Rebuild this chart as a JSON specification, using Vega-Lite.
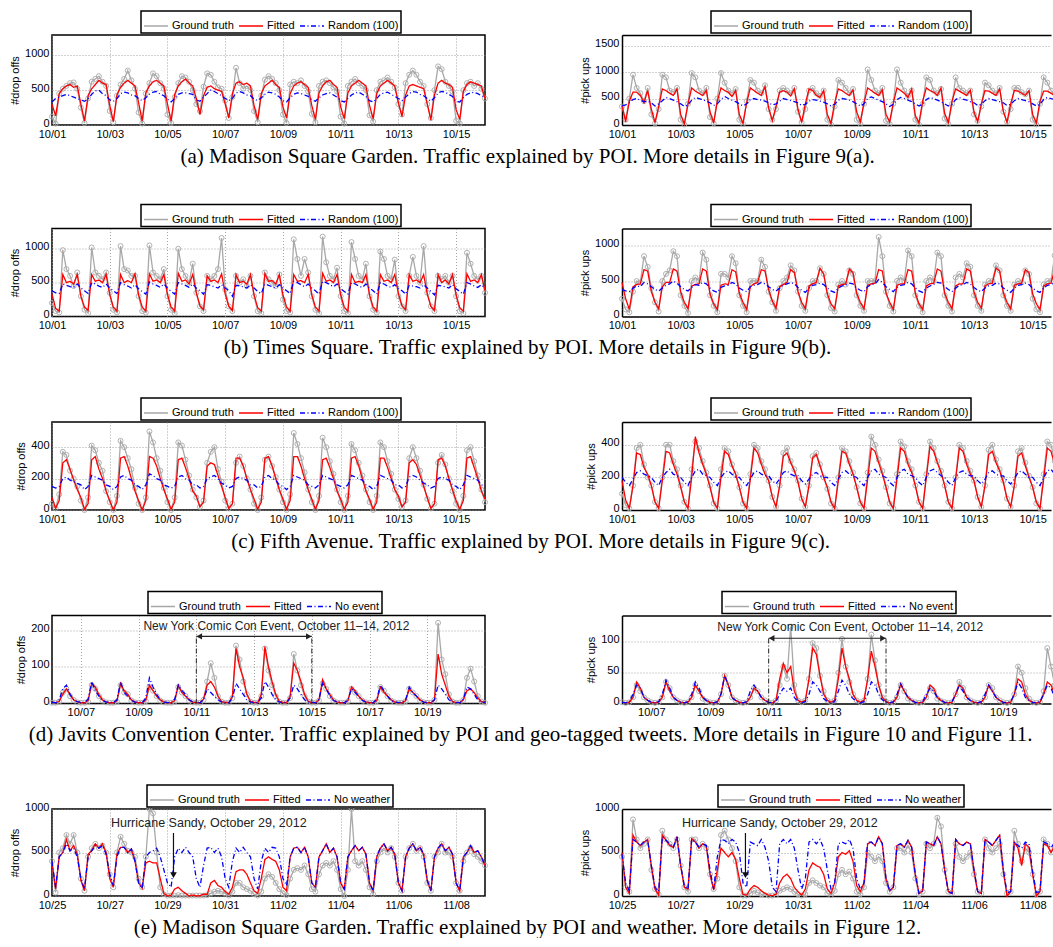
{"$schema":"https://vega.github.io/schema/vega-lite/v6.json","background":"white","padding":{"left":8,"top":9,"right":0,"bottom":0},
"config":{"font":"Liberation Sans","view":{"stroke":"black","strokeWidth":1.5},
"axis":{"labelFont":"Liberation Sans","labelFontSize":11,"labelColor":"black","titleFont":"Liberation Sans","titleFontSize":11,"titleFontWeight":"normal","titleColor":"black","grid":true,"gridColor":"#8c8c8c","gridDash":[1,2],"gridWidth":0.8,"ticks":false,"domain":false,"domainColor":"black","domainWidth":1.5,"labelPadding":3,"titlePadding":4,"labelFlush":false,"labelOverlap":false,"labelBound":false},
"axisX":{"labelPadding":3},
"axisY":{"format":"d","labelOffset":-2},
"legend":{"orient":"none","direction":"horizontal","strokeColor":"black","strokeWidth":1.5,"fillColor":"white","padding":2,"labelFont":"Liberation Sans","labelFontSize":11,"labelColor":"black","labelOffset":3,"columnPadding":2,"symbolSize":576,"symbolStrokeWidth":1.3,"symbolType":"stroke","labelLimit":200},
"line":{"strokeWidth":1.3,"clip":true},
"point":{"shape":"circle","filled":false,"size":25,"strokeWidth":0.9,"clip":true,"opacity":1},
"text":{"font":"Liberation Sans"},
"title":{"font":"Liberation Serif","fontSize":21,"fontWeight":"normal","color":"black","orient":"bottom","anchor":"middle","offset":6,"dx":-10}},
"datasets":{
"a1":[{"h":0,"g":120,"f":300,"r":330},{"h":3,"g":20,"f":130,"r":380},{"h":6,"g":450,"f":450,"r":400},{"h":9,"g":520,"f":520,"r":420},{"h":12,"g":560,"f":560,"r":440},{"h":15,"g":600,"f":580,"r":420},{"h":18,"g":610,"f":540,"r":400},{"h":21,"g":520,"f":560,"r":380},{"h":24,"g":250,"f":300,"r":360},{"h":27,"g":30,"f":60,"r":340},{"h":30,"g":380,"f":420,"r":370},{"h":33,"g":620,"f":520,"r":440},{"h":36,"g":660,"f":580,"r":490},{"h":39,"g":700,"f":640,"r":500},{"h":42,"g":620,"f":600,"r":450},{"h":45,"g":560,"f":580,"r":420},{"h":48,"g":200,"f":280,"r":360},{"h":51,"g":40,"f":50,"r":340},{"h":54,"g":420,"f":430,"r":380},{"h":57,"g":580,"f":540,"r":450},{"h":60,"g":660,"f":600,"r":470},{"h":63,"g":780,"f":640,"r":460},{"h":66,"g":640,"f":600,"r":430},{"h":69,"g":520,"f":560,"r":420},{"h":72,"g":180,"f":320,"r":380},{"h":75,"g":20,"f":60,"r":350},{"h":78,"g":450,"f":460,"r":390},{"h":81,"g":600,"f":560,"r":440},{"h":84,"g":740,"f":620,"r":470},{"h":87,"g":700,"f":640,"r":480},{"h":90,"g":600,"f":600,"r":440},{"h":93,"g":520,"f":560,"r":420},{"h":96,"g":150,"f":300,"r":370},{"h":99,"g":30,"f":60,"r":330},{"h":102,"g":400,"f":440,"r":380},{"h":105,"g":600,"f":560,"r":440},{"h":108,"g":700,"f":620,"r":460},{"h":111,"g":680,"f":660,"r":460},{"h":114,"g":620,"f":600,"r":450},{"h":117,"g":500,"f":560,"r":440},{"h":120,"g":300,"f":380,"r":360},{"h":123,"g":200,"f":150,"r":340},{"h":126,"g":550,"f":420,"r":400},{"h":129,"g":740,"f":540,"r":450},{"h":132,"g":720,"f":560,"r":500},{"h":135,"g":620,"f":520,"r":480},{"h":138,"g":540,"f":500,"r":450},{"h":141,"g":520,"f":480,"r":420},{"h":144,"g":350,"f":300,"r":380},{"h":147,"g":100,"f":100,"r":350},{"h":150,"g":400,"f":450,"r":380},{"h":153,"g":820,"f":600,"r":460},{"h":156,"g":600,"f":620,"r":480},{"h":159,"g":520,"f":580,"r":460},{"h":162,"g":560,"f":600,"r":430},{"h":165,"g":500,"f":560,"r":420},{"h":168,"g":200,"f":280,"r":370},{"h":171,"g":40,"f":80,"r":350},{"h":174,"g":420,"f":450,"r":390},{"h":177,"g":650,"f":560,"r":440},{"h":180,"g":700,"f":600,"r":470},{"h":183,"g":660,"f":640,"r":460},{"h":186,"g":600,"f":580,"r":440},{"h":189,"g":500,"f":540,"r":400},{"h":192,"g":150,"f":260,"r":350},{"h":195,"g":30,"f":100,"r":330},{"h":198,"g":580,"f":450,"r":390},{"h":201,"g":620,"f":560,"r":440},{"h":204,"g":600,"f":600,"r":460},{"h":207,"g":640,"f":620,"r":450},{"h":210,"g":560,"f":580,"r":430},{"h":213,"g":480,"f":540,"r":410},{"h":216,"g":160,"f":280,"r":360},{"h":219,"g":40,"f":80,"r":340},{"h":222,"g":560,"f":460,"r":390},{"h":225,"g":620,"f":560,"r":430},{"h":228,"g":640,"f":620,"r":450},{"h":231,"g":600,"f":640,"r":460},{"h":234,"g":540,"f":580,"r":430},{"h":237,"g":480,"f":540,"r":400},{"h":240,"g":120,"f":260,"r":350},{"h":243,"g":20,"f":90,"r":330},{"h":246,"g":560,"f":460,"r":380},{"h":249,"g":620,"f":560,"r":430},{"h":252,"g":660,"f":600,"r":460},{"h":255,"g":600,"f":640,"r":470},{"h":258,"g":560,"f":600,"r":440},{"h":261,"g":500,"f":560,"r":410},{"h":264,"g":140,"f":280,"r":350},{"h":267,"g":50,"f":90,"r":330},{"h":270,"g":500,"f":450,"r":380},{"h":273,"g":620,"f":560,"r":440},{"h":276,"g":640,"f":600,"r":460},{"h":279,"g":680,"f":640,"r":470},{"h":282,"g":620,"f":600,"r":440},{"h":285,"g":540,"f":560,"r":410},{"h":288,"g":300,"f":320,"r":380},{"h":291,"g":150,"f":120,"r":350},{"h":294,"g":600,"f":430,"r":400},{"h":297,"g":720,"f":560,"r":450},{"h":300,"g":780,"f":580,"r":480},{"h":303,"g":720,"f":560,"r":470},{"h":306,"g":620,"f":540,"r":440},{"h":309,"g":560,"f":520,"r":420},{"h":312,"g":300,"f":300,"r":380},{"h":315,"g":100,"f":70,"r":340},{"h":318,"g":500,"f":430,"r":390},{"h":321,"g":840,"f":600,"r":460},{"h":324,"g":800,"f":640,"r":480},{"h":327,"g":620,"f":600,"r":470},{"h":330,"g":560,"f":580,"r":440},{"h":333,"g":480,"f":540,"r":410},{"h":336,"g":60,"f":220,"r":340},{"h":339,"g":20,"f":80,"r":330},{"h":342,"g":500,"f":480,"r":390},{"h":345,"g":600,"f":580,"r":440},{"h":348,"g":620,"f":620,"r":460},{"h":351,"g":560,"f":600,"r":470},{"h":354,"g":600,"f":580,"r":450},{"h":357,"g":520,"f":560,"r":420},{"h":360,"g":380,"f":380,"r":400}],
"a2":[{"h":0,"g":350,"f":370,"r":360},{"h":3,"g":100,"f":60,"r":380},{"h":6,"g":500,"f":450,"r":420},{"h":9,"g":950,"f":620,"r":480},{"h":12,"g":700,"f":620,"r":500},{"h":15,"g":600,"f":560,"r":470},{"h":18,"g":450,"f":420,"r":440},{"h":21,"g":700,"f":650,"r":450},{"h":24,"g":200,"f":300,"r":420},{"h":27,"g":30,"f":50,"r":360},{"h":30,"g":300,"f":350,"r":400},{"h":33,"g":950,"f":680,"r":460},{"h":36,"g":900,"f":650,"r":520},{"h":39,"g":650,"f":600,"r":500},{"h":42,"g":620,"f":560,"r":470},{"h":45,"g":700,"f":680,"r":440},{"h":48,"g":100,"f":200,"r":400},{"h":51,"g":10,"f":20,"r":350},{"h":54,"g":400,"f":400,"r":380},{"h":57,"g":980,"f":700,"r":470},{"h":60,"g":900,"f":640,"r":520},{"h":63,"g":650,"f":600,"r":500},{"h":66,"g":600,"f":560,"r":480},{"h":69,"g":700,"f":650,"r":450},{"h":72,"g":150,"f":250,"r":420},{"h":75,"g":30,"f":40,"r":370},{"h":78,"g":500,"f":450,"r":400},{"h":81,"g":980,"f":700,"r":480},{"h":84,"g":800,"f":650,"r":540},{"h":87,"g":650,"f":620,"r":500},{"h":90,"g":600,"f":540,"r":470},{"h":93,"g":680,"f":650,"r":440},{"h":96,"g":100,"f":200,"r":400},{"h":99,"g":20,"f":30,"r":360},{"h":102,"g":450,"f":420,"r":400},{"h":105,"g":850,"f":700,"r":480},{"h":108,"g":800,"f":650,"r":500},{"h":111,"g":650,"f":600,"r":480},{"h":114,"g":600,"f":560,"r":470},{"h":117,"g":750,"f":720,"r":450},{"h":120,"g":300,"f":320,"r":420},{"h":123,"g":100,"f":80,"r":380},{"h":126,"g":300,"f":350,"r":400},{"h":129,"g":650,"f":620,"r":450},{"h":132,"g":700,"f":650,"r":500},{"h":135,"g":650,"f":620,"r":480},{"h":138,"g":600,"f":550,"r":460},{"h":141,"g":700,"f":680,"r":440},{"h":144,"g":250,"f":300,"r":420},{"h":147,"g":50,"f":50,"r":370},{"h":150,"g":300,"f":400,"r":390},{"h":153,"g":650,"f":680,"r":450},{"h":156,"g":700,"f":650,"r":480},{"h":159,"g":600,"f":560,"r":470},{"h":162,"g":550,"f":520,"r":450},{"h":165,"g":650,"f":650,"r":430},{"h":168,"g":100,"f":200,"r":400},{"h":171,"g":10,"f":30,"r":360},{"h":174,"g":350,"f":420,"r":390},{"h":177,"g":850,"f":680,"r":470},{"h":180,"g":800,"f":650,"r":500},{"h":183,"g":700,"f":600,"r":490},{"h":186,"g":600,"f":560,"r":470},{"h":189,"g":680,"f":660,"r":440},{"h":192,"g":100,"f":250,"r":400},{"h":195,"g":20,"f":60,"r":360},{"h":198,"g":400,"f":420,"r":400},{"h":201,"g":1050,"f":700,"r":500},{"h":204,"g":850,"f":650,"r":530},{"h":207,"g":650,"f":600,"r":500},{"h":210,"g":600,"f":560,"r":470},{"h":213,"g":700,"f":660,"r":440},{"h":216,"g":80,"f":200,"r":400},{"h":219,"g":20,"f":60,"r":350},{"h":222,"g":400,"f":420,"r":390},{"h":225,"g":1050,"f":700,"r":480},{"h":228,"g":800,"f":650,"r":520},{"h":231,"g":650,"f":600,"r":500},{"h":234,"g":550,"f":520,"r":470},{"h":237,"g":650,"f":680,"r":440},{"h":240,"g":100,"f":180,"r":400},{"h":243,"g":10,"f":40,"r":360},{"h":246,"g":400,"f":450,"r":390},{"h":249,"g":900,"f":700,"r":480},{"h":252,"g":850,"f":650,"r":520},{"h":255,"g":650,"f":620,"r":500},{"h":258,"g":600,"f":560,"r":470},{"h":261,"g":680,"f":700,"r":440},{"h":264,"g":120,"f":220,"r":400},{"h":267,"g":20,"f":50,"r":360},{"h":270,"g":400,"f":450,"r":390},{"h":273,"g":900,"f":680,"r":480},{"h":276,"g":700,"f":640,"r":520},{"h":279,"g":650,"f":600,"r":490},{"h":282,"g":600,"f":560,"r":470},{"h":285,"g":650,"f":660,"r":440},{"h":288,"g":200,"f":250,"r":420},{"h":291,"g":80,"f":60,"r":370},{"h":294,"g":350,"f":400,"r":390},{"h":297,"g":800,"f":650,"r":460},{"h":300,"g":750,"f":640,"r":500},{"h":303,"g":650,"f":600,"r":480},{"h":306,"g":600,"f":560,"r":460},{"h":309,"g":700,"f":680,"r":440},{"h":312,"g":250,"f":260,"r":420},{"h":315,"g":60,"f":50,"r":370},{"h":318,"g":300,"f":400,"r":390},{"h":321,"g":700,"f":650,"r":460},{"h":324,"g":700,"f":640,"r":500},{"h":327,"g":620,"f":600,"r":480},{"h":330,"g":580,"f":560,"r":460},{"h":333,"g":650,"f":650,"r":440},{"h":336,"g":100,"f":200,"r":400},{"h":339,"g":10,"f":40,"r":360},{"h":342,"g":400,"f":450,"r":390},{"h":345,"g":900,"f":640,"r":480},{"h":348,"g":800,"f":640,"r":520},{"h":351,"g":650,"f":600,"r":500},{"h":354,"g":600,"f":560,"r":480},{"h":357,"g":650,"f":640,"r":460},{"h":360,"g":300,"f":350,"r":420}],
"b1":[{"h":0,"g":200,"f":330,"r":380},{"h":3,"g":80,"f":120,"r":350},{"h":6,"g":60,"f":80,"r":340},{"h":9,"g":980,"f":620,"r":480},{"h":12,"g":700,"f":500,"r":460},{"h":15,"g":600,"f":520,"r":440},{"h":18,"g":450,"f":480,"r":430},{"h":21,"g":650,"f":620,"r":480},{"h":24,"g":300,"f":300,"r":420},{"h":27,"g":100,"f":140,"r":380},{"h":30,"g":50,"f":90,"r":340},{"h":33,"g":1020,"f":620,"r":500},{"h":36,"g":650,"f":520,"r":480},{"h":39,"g":600,"f":540,"r":450},{"h":42,"g":550,"f":500,"r":430},{"h":45,"g":650,"f":620,"r":480},{"h":48,"g":350,"f":320,"r":420},{"h":51,"g":100,"f":140,"r":380},{"h":54,"g":60,"f":80,"r":340},{"h":57,"g":1040,"f":620,"r":500},{"h":60,"g":700,"f":500,"r":470},{"h":63,"g":680,"f":530,"r":450},{"h":66,"g":600,"f":500,"r":420},{"h":69,"g":600,"f":630,"r":470},{"h":72,"g":300,"f":320,"r":410},{"h":75,"g":80,"f":140,"r":370},{"h":78,"g":60,"f":80,"r":330},{"h":81,"g":1050,"f":630,"r":510},{"h":84,"g":650,"f":520,"r":480},{"h":87,"g":600,"f":540,"r":460},{"h":90,"g":550,"f":500,"r":430},{"h":93,"g":700,"f":620,"r":480},{"h":96,"g":300,"f":330,"r":420},{"h":99,"g":100,"f":140,"r":370},{"h":102,"g":50,"f":80,"r":330},{"h":105,"g":1000,"f":640,"r":500},{"h":108,"g":700,"f":520,"r":480},{"h":111,"g":600,"f":540,"r":460},{"h":114,"g":500,"f":480,"r":430},{"h":117,"g":780,"f":620,"r":480},{"h":120,"g":350,"f":350,"r":420},{"h":123,"g":150,"f":160,"r":380},{"h":126,"g":80,"f":100,"r":330},{"h":129,"g":600,"f":600,"r":470},{"h":132,"g":550,"f":520,"r":460},{"h":135,"g":600,"f":540,"r":440},{"h":138,"g":700,"f":500,"r":420},{"h":141,"g":1160,"f":630,"r":470},{"h":144,"g":400,"f":330,"r":420},{"h":147,"g":150,"f":150,"r":380},{"h":150,"g":80,"f":90,"r":300},{"h":153,"g":600,"f":620,"r":460},{"h":156,"g":500,"f":500,"r":450},{"h":159,"g":550,"f":520,"r":440},{"h":162,"g":450,"f":480,"r":420},{"h":165,"g":600,"f":620,"r":470},{"h":168,"g":300,"f":320,"r":420},{"h":171,"g":80,"f":130,"r":370},{"h":174,"g":50,"f":80,"r":340},{"h":177,"g":650,"f":630,"r":480},{"h":180,"g":550,"f":520,"r":460},{"h":183,"g":500,"f":530,"r":440},{"h":186,"g":450,"f":480,"r":420},{"h":189,"g":620,"f":620,"r":470},{"h":192,"g":250,"f":320,"r":420},{"h":195,"g":80,"f":140,"r":380},{"h":198,"g":60,"f":80,"r":340},{"h":201,"g":1140,"f":620,"r":520},{"h":204,"g":850,"f":520,"r":500},{"h":207,"g":600,"f":530,"r":470},{"h":210,"g":850,"f":500,"r":440},{"h":213,"g":650,"f":620,"r":480},{"h":216,"g":300,"f":320,"r":420},{"h":219,"g":100,"f":140,"r":380},{"h":222,"g":50,"f":80,"r":330},{"h":225,"g":1180,"f":640,"r":520},{"h":228,"g":800,"f":520,"r":500},{"h":231,"g":600,"f":540,"r":470},{"h":234,"g":550,"f":500,"r":440},{"h":237,"g":720,"f":620,"r":480},{"h":240,"g":300,"f":320,"r":410},{"h":243,"g":80,"f":140,"r":370},{"h":246,"g":50,"f":80,"r":330},{"h":249,"g":1100,"f":620,"r":500},{"h":252,"g":850,"f":500,"r":480},{"h":255,"g":600,"f":520,"r":450},{"h":258,"g":550,"f":500,"r":430},{"h":261,"g":780,"f":620,"r":480},{"h":264,"g":300,"f":320,"r":420},{"h":267,"g":100,"f":140,"r":380},{"h":270,"g":60,"f":80,"r":330},{"h":273,"g":960,"f":620,"r":500},{"h":276,"g":850,"f":520,"r":480},{"h":279,"g":600,"f":540,"r":450},{"h":282,"g":550,"f":500,"r":430},{"h":285,"g":840,"f":620,"r":470},{"h":288,"g":300,"f":340,"r":420},{"h":291,"g":150,"f":160,"r":380},{"h":294,"g":80,"f":100,"r":330},{"h":297,"g":600,"f":620,"r":460},{"h":300,"g":880,"f":520,"r":450},{"h":303,"g":600,"f":540,"r":440},{"h":306,"g":500,"f":500,"r":420},{"h":309,"g":1040,"f":620,"r":470},{"h":312,"g":350,"f":330,"r":420},{"h":315,"g":150,"f":150,"r":370},{"h":318,"g":80,"f":90,"r":320},{"h":321,"g":600,"f":620,"r":460},{"h":324,"g":550,"f":500,"r":450},{"h":327,"g":600,"f":540,"r":440},{"h":330,"g":500,"f":480,"r":420},{"h":333,"g":600,"f":620,"r":470},{"h":336,"g":300,"f":320,"r":410},{"h":339,"g":80,"f":130,"r":370},{"h":342,"g":50,"f":80,"r":330},{"h":345,"g":940,"f":630,"r":500},{"h":348,"g":780,"f":520,"r":480},{"h":351,"g":600,"f":540,"r":450},{"h":354,"g":550,"f":500,"r":430},{"h":357,"g":600,"f":620,"r":470},{"h":360,"g":350,"f":380,"r":420}],
"b2":[{"h":0,"g":250,"f":480,"r":380},{"h":3,"g":100,"f":250,"r":360},{"h":6,"g":60,"f":100,"r":350},{"h":9,"g":350,"f":420,"r":400},{"h":12,"g":500,"f":450,"r":430},{"h":15,"g":480,"f":460,"r":420},{"h":18,"g":850,"f":660,"r":480},{"h":21,"g":700,"f":640,"r":460},{"h":24,"g":400,"f":350,"r":420},{"h":27,"g":200,"f":200,"r":380},{"h":30,"g":70,"f":110,"r":360},{"h":33,"g":500,"f":420,"r":400},{"h":36,"g":600,"f":480,"r":440},{"h":39,"g":650,"f":480,"r":460},{"h":42,"g":920,"f":670,"r":500},{"h":45,"g":850,"f":640,"r":470},{"h":48,"g":300,"f":350,"r":420},{"h":51,"g":150,"f":200,"r":380},{"h":54,"g":50,"f":110,"r":360},{"h":57,"g":500,"f":430,"r":410},{"h":60,"g":550,"f":450,"r":450},{"h":63,"g":500,"f":460,"r":440},{"h":66,"g":900,"f":670,"r":480},{"h":69,"g":800,"f":640,"r":460},{"h":72,"g":300,"f":320,"r":400},{"h":75,"g":150,"f":180,"r":360},{"h":78,"g":60,"f":100,"r":340},{"h":81,"g":600,"f":440,"r":410},{"h":84,"g":600,"f":460,"r":430},{"h":87,"g":550,"f":450,"r":440},{"h":90,"g":850,"f":660,"r":480},{"h":93,"g":750,"f":630,"r":460},{"h":96,"g":300,"f":330,"r":400},{"h":99,"g":150,"f":200,"r":370},{"h":102,"g":60,"f":100,"r":350},{"h":105,"g":500,"f":420,"r":420},{"h":108,"g":500,"f":460,"r":440},{"h":111,"g":500,"f":480,"r":450},{"h":114,"g":800,"f":660,"r":480},{"h":117,"g":700,"f":640,"r":460},{"h":120,"g":350,"f":380,"r":420},{"h":123,"g":200,"f":220,"r":380},{"h":126,"g":80,"f":120,"r":360},{"h":129,"g":400,"f":420,"r":400},{"h":132,"g":500,"f":450,"r":440},{"h":135,"g":550,"f":480,"r":460},{"h":138,"g":720,"f":660,"r":480},{"h":141,"g":650,"f":620,"r":460},{"h":144,"g":350,"f":350,"r":410},{"h":147,"g":150,"f":200,"r":370},{"h":150,"g":80,"f":110,"r":340},{"h":153,"g":400,"f":430,"r":400},{"h":156,"g":500,"f":460,"r":440},{"h":159,"g":500,"f":480,"r":450},{"h":162,"g":680,"f":680,"r":470},{"h":165,"g":600,"f":600,"r":450},{"h":168,"g":300,"f":320,"r":400},{"h":171,"g":120,"f":180,"r":360},{"h":174,"g":70,"f":110,"r":340},{"h":177,"g":450,"f":430,"r":400},{"h":180,"g":500,"f":450,"r":430},{"h":183,"g":450,"f":460,"r":440},{"h":186,"g":650,"f":670,"r":470},{"h":189,"g":600,"f":620,"r":460},{"h":192,"g":300,"f":330,"r":400},{"h":195,"g":150,"f":200,"r":370},{"h":198,"g":80,"f":110,"r":350},{"h":201,"g":500,"f":440,"r":420},{"h":204,"g":500,"f":460,"r":450},{"h":207,"g":500,"f":470,"r":460},{"h":210,"g":1120,"f":660,"r":520},{"h":213,"g":850,"f":640,"r":480},{"h":216,"g":350,"f":330,"r":420},{"h":219,"g":150,"f":200,"r":380},{"h":222,"g":70,"f":100,"r":350},{"h":225,"g":500,"f":440,"r":410},{"h":228,"g":550,"f":460,"r":440},{"h":231,"g":500,"f":460,"r":450},{"h":234,"g":930,"f":660,"r":480},{"h":237,"g":850,"f":640,"r":460},{"h":240,"g":300,"f":330,"r":400},{"h":243,"g":150,"f":180,"r":360},{"h":246,"g":60,"f":100,"r":340},{"h":249,"g":500,"f":430,"r":400},{"h":252,"g":550,"f":460,"r":430},{"h":255,"g":500,"f":470,"r":450},{"h":258,"g":900,"f":670,"r":480},{"h":261,"g":850,"f":640,"r":470},{"h":264,"g":300,"f":330,"r":420},{"h":267,"g":150,"f":200,"r":380},{"h":270,"g":70,"f":110,"r":350},{"h":273,"g":550,"f":430,"r":400},{"h":276,"g":600,"f":460,"r":440},{"h":279,"g":550,"f":460,"r":450},{"h":282,"g":750,"f":670,"r":480},{"h":285,"g":700,"f":640,"r":460},{"h":288,"g":300,"f":350,"r":410},{"h":291,"g":150,"f":200,"r":370},{"h":294,"g":80,"f":120,"r":350},{"h":297,"g":450,"f":430,"r":400},{"h":300,"g":500,"f":460,"r":430},{"h":303,"g":500,"f":470,"r":440},{"h":306,"g":720,"f":680,"r":470},{"h":309,"g":650,"f":640,"r":460},{"h":312,"g":300,"f":340,"r":400},{"h":315,"g":150,"f":200,"r":370},{"h":318,"g":80,"f":110,"r":340},{"h":321,"g":450,"f":440,"r":400},{"h":324,"g":500,"f":460,"r":440},{"h":327,"g":480,"f":470,"r":450},{"h":330,"g":650,"f":660,"r":470},{"h":333,"g":600,"f":620,"r":450},{"h":336,"g":250,"f":320,"r":400},{"h":339,"g":100,"f":180,"r":360},{"h":342,"g":60,"f":100,"r":340},{"h":345,"g":450,"f":430,"r":400},{"h":348,"g":500,"f":460,"r":440},{"h":351,"g":500,"f":470,"r":450},{"h":354,"g":860,"f":660,"r":480},{"h":357,"g":750,"f":640,"r":460},{"h":360,"g":400,"f":400,"r":420}],
"c1":[{"h":0,"g":40,"f":80,"r":150},{"h":3,"g":10,"f":10,"r":140},{"h":6,"g":100,"f":60,"r":150},{"h":9,"g":370,"f":300,"r":200},{"h":12,"g":350,"f":320,"r":210},{"h":15,"g":250,"f":260,"r":190},{"h":18,"g":200,"f":190,"r":180},{"h":21,"g":150,"f":130,"r":170},{"h":24,"g":60,"f":80,"r":160},{"h":27,"g":0,"f":5,"r":130},{"h":30,"g":80,"f":40,"r":150},{"h":33,"g":410,"f":320,"r":220},{"h":36,"g":380,"f":340,"r":210},{"h":39,"g":300,"f":260,"r":200},{"h":42,"g":250,"f":200,"r":190},{"h":45,"g":120,"f":120,"r":160},{"h":48,"g":50,"f":60,"r":150},{"h":51,"g":0,"f":0,"r":130},{"h":54,"g":90,"f":50,"r":150},{"h":57,"g":440,"f":330,"r":210},{"h":60,"g":400,"f":340,"r":220},{"h":63,"g":330,"f":280,"r":200},{"h":66,"g":260,"f":200,"r":190},{"h":69,"g":140,"f":120,"r":160},{"h":72,"g":40,"f":60,"r":150},{"h":75,"g":0,"f":0,"r":130},{"h":78,"g":80,"f":60,"r":160},{"h":81,"g":500,"f":340,"r":230},{"h":84,"g":430,"f":330,"r":220},{"h":87,"g":330,"f":280,"r":200},{"h":90,"g":250,"f":200,"r":190},{"h":93,"g":140,"f":130,"r":160},{"h":96,"g":50,"f":70,"r":150},{"h":99,"g":0,"f":5,"r":140},{"h":102,"g":80,"f":50,"r":150},{"h":105,"g":430,"f":320,"r":210},{"h":108,"g":410,"f":330,"r":220},{"h":111,"g":320,"f":270,"r":200},{"h":114,"g":220,"f":200,"r":190},{"h":117,"g":130,"f":120,"r":160},{"h":120,"g":80,"f":90,"r":160},{"h":123,"g":20,"f":20,"r":140},{"h":126,"g":60,"f":50,"r":150},{"h":129,"g":300,"f":280,"r":200},{"h":132,"g":370,"f":300,"r":210},{"h":135,"g":400,"f":290,"r":220},{"h":138,"g":260,"f":220,"r":200},{"h":141,"g":180,"f":150,"r":170},{"h":144,"g":60,"f":80,"r":160},{"h":147,"g":10,"f":10,"r":140},{"h":150,"g":40,"f":40,"r":150},{"h":153,"g":300,"f":330,"r":200},{"h":156,"g":340,"f":330,"r":210},{"h":159,"g":280,"f":280,"r":200},{"h":162,"g":200,"f":200,"r":190},{"h":165,"g":130,"f":130,"r":160},{"h":168,"g":40,"f":70,"r":160},{"h":171,"g":0,"f":5,"r":140},{"h":174,"g":80,"f":50,"r":150},{"h":177,"g":320,"f":330,"r":210},{"h":180,"g":340,"f":340,"r":220},{"h":183,"g":280,"f":280,"r":200},{"h":186,"g":210,"f":200,"r":190},{"h":189,"g":130,"f":130,"r":160},{"h":192,"g":50,"f":70,"r":150},{"h":195,"g":0,"f":5,"r":130},{"h":198,"g":100,"f":60,"r":150},{"h":201,"g":490,"f":340,"r":220},{"h":204,"g":420,"f":340,"r":210},{"h":207,"g":330,"f":280,"r":200},{"h":210,"g":240,"f":200,"r":190},{"h":213,"g":130,"f":130,"r":160},{"h":216,"g":50,"f":70,"r":150},{"h":219,"g":0,"f":5,"r":140},{"h":222,"g":90,"f":60,"r":160},{"h":225,"g":460,"f":320,"r":220},{"h":228,"g":400,"f":330,"r":210},{"h":231,"g":310,"f":270,"r":200},{"h":234,"g":230,"f":200,"r":190},{"h":237,"g":130,"f":120,"r":160},{"h":240,"g":50,"f":70,"r":150},{"h":243,"g":0,"f":5,"r":140},{"h":246,"g":90,"f":50,"r":160},{"h":249,"g":420,"f":330,"r":220},{"h":252,"g":380,"f":340,"r":210},{"h":255,"g":300,"f":280,"r":200},{"h":258,"g":220,"f":200,"r":190},{"h":261,"g":130,"f":120,"r":160},{"h":264,"g":50,"f":70,"r":150},{"h":267,"g":0,"f":5,"r":130},{"h":270,"g":90,"f":50,"r":150},{"h":273,"g":430,"f":330,"r":220},{"h":276,"g":400,"f":330,"r":210},{"h":279,"g":310,"f":270,"r":200},{"h":282,"g":230,"f":200,"r":190},{"h":285,"g":130,"f":130,"r":160},{"h":288,"g":70,"f":90,"r":160},{"h":291,"g":20,"f":20,"r":140},{"h":294,"g":60,"f":50,"r":150},{"h":297,"g":330,"f":300,"r":210},{"h":300,"g":400,"f":320,"r":220},{"h":303,"g":330,"f":290,"r":210},{"h":306,"g":250,"f":220,"r":190},{"h":309,"g":160,"f":150,"r":170},{"h":312,"g":70,"f":80,"r":160},{"h":315,"g":10,"f":10,"r":140},{"h":318,"g":40,"f":40,"r":150},{"h":321,"g":300,"f":320,"r":200},{"h":324,"g":350,"f":330,"r":210},{"h":327,"g":290,"f":280,"r":200},{"h":330,"g":200,"f":200,"r":190},{"h":333,"g":120,"f":130,"r":160},{"h":336,"g":40,"f":60,"r":150},{"h":339,"g":0,"f":5,"r":130},{"h":342,"g":90,"f":60,"r":160},{"h":345,"g":380,"f":330,"r":220},{"h":348,"g":400,"f":340,"r":210},{"h":351,"g":310,"f":270,"r":200},{"h":354,"g":220,"f":200,"r":190},{"h":357,"g":130,"f":120,"r":160},{"h":360,"g":50,"f":70,"r":150}],
"c2":[{"h":0,"g":100,"f":180,"r":200},{"h":3,"g":30,"f":60,"r":170},{"h":6,"g":10,"f":10,"r":150},{"h":9,"g":150,"f":150,"r":190},{"h":12,"g":380,"f":350,"r":230},{"h":15,"g":400,"f":340,"r":240},{"h":18,"g":280,"f":260,"r":220},{"h":21,"g":200,"f":220,"r":210},{"h":24,"g":150,"f":150,"r":200},{"h":27,"g":50,"f":50,"r":170},{"h":30,"g":10,"f":10,"r":150},{"h":33,"g":200,"f":180,"r":200},{"h":36,"g":400,"f":360,"r":230},{"h":39,"g":400,"f":350,"r":250},{"h":42,"g":300,"f":280,"r":220},{"h":45,"g":250,"f":220,"r":210},{"h":48,"g":150,"f":140,"r":200},{"h":51,"g":50,"f":50,"r":170},{"h":54,"g":10,"f":10,"r":150},{"h":57,"g":250,"f":200,"r":200},{"h":60,"g":420,"f":450,"r":240},{"h":63,"g":380,"f":350,"r":250},{"h":66,"g":300,"f":280,"r":220},{"h":69,"g":230,"f":220,"r":210},{"h":72,"g":150,"f":140,"r":200},{"h":75,"g":40,"f":50,"r":170},{"h":78,"g":10,"f":10,"r":150},{"h":81,"g":250,"f":200,"r":200},{"h":84,"g":380,"f":360,"r":230},{"h":87,"g":360,"f":340,"r":240},{"h":90,"g":280,"f":270,"r":220},{"h":93,"g":220,"f":220,"r":200},{"h":96,"g":140,"f":140,"r":200},{"h":99,"g":40,"f":50,"r":170},{"h":102,"g":10,"f":10,"r":150},{"h":105,"g":220,"f":190,"r":190},{"h":108,"g":400,"f":380,"r":230},{"h":111,"g":380,"f":350,"r":240},{"h":114,"g":300,"f":280,"r":220},{"h":117,"g":250,"f":220,"r":210},{"h":120,"g":180,"f":180,"r":210},{"h":123,"g":80,"f":80,"r":180},{"h":126,"g":20,"f":20,"r":160},{"h":129,"g":150,"f":150,"r":190},{"h":132,"g":350,"f":330,"r":230},{"h":135,"g":380,"f":350,"r":240},{"h":138,"g":300,"f":290,"r":220},{"h":141,"g":250,"f":240,"r":210},{"h":144,"g":180,"f":170,"r":210},{"h":147,"g":70,"f":70,"r":180},{"h":150,"g":20,"f":20,"r":160},{"h":153,"g":150,"f":150,"r":190},{"h":156,"g":330,"f":320,"r":220},{"h":159,"g":350,"f":340,"r":230},{"h":162,"g":280,"f":270,"r":210},{"h":165,"g":200,"f":200,"r":200},{"h":168,"g":130,"f":140,"r":200},{"h":171,"g":40,"f":50,"r":170},{"h":174,"g":10,"f":10,"r":150},{"h":177,"g":200,"f":180,"r":190},{"h":180,"g":380,"f":360,"r":230},{"h":183,"g":360,"f":350,"r":240},{"h":186,"g":300,"f":280,"r":220},{"h":189,"g":230,"f":220,"r":210},{"h":192,"g":140,"f":140,"r":200},{"h":195,"g":40,"f":50,"r":170},{"h":198,"g":10,"f":10,"r":150},{"h":201,"g":230,"f":190,"r":200},{"h":204,"g":450,"f":380,"r":240},{"h":207,"g":400,"f":360,"r":250},{"h":210,"g":310,"f":290,"r":220},{"h":213,"g":240,"f":220,"r":210},{"h":216,"g":140,"f":140,"r":200},{"h":219,"g":40,"f":50,"r":170},{"h":222,"g":10,"f":10,"r":150},{"h":225,"g":220,"f":190,"r":200},{"h":228,"g":420,"f":380,"r":240},{"h":231,"g":390,"f":360,"r":250},{"h":234,"g":300,"f":280,"r":220},{"h":237,"g":250,"f":230,"r":210},{"h":240,"g":150,"f":150,"r":200},{"h":243,"g":50,"f":50,"r":170},{"h":246,"g":10,"f":10,"r":150},{"h":249,"g":220,"f":200,"r":200},{"h":252,"g":420,"f":390,"r":240},{"h":255,"g":380,"f":360,"r":250},{"h":258,"g":300,"f":290,"r":230},{"h":261,"g":240,"f":230,"r":210},{"h":264,"g":150,"f":150,"r":200},{"h":267,"g":50,"f":50,"r":170},{"h":270,"g":10,"f":10,"r":150},{"h":273,"g":200,"f":190,"r":200},{"h":276,"g":400,"f":380,"r":230},{"h":279,"g":380,"f":360,"r":240},{"h":282,"g":300,"f":280,"r":220},{"h":285,"g":240,"f":220,"r":210},{"h":288,"g":180,"f":180,"r":210},{"h":291,"g":80,"f":80,"r":180},{"h":294,"g":20,"f":20,"r":160},{"h":297,"g":150,"f":150,"r":190},{"h":300,"g":370,"f":340,"r":230},{"h":303,"g":400,"f":360,"r":240},{"h":306,"g":310,"f":290,"r":220},{"h":309,"g":250,"f":240,"r":210},{"h":312,"g":180,"f":170,"r":210},{"h":315,"g":70,"f":70,"r":180},{"h":318,"g":20,"f":20,"r":160},{"h":321,"g":150,"f":150,"r":190},{"h":324,"g":360,"f":330,"r":230},{"h":327,"g":380,"f":350,"r":240},{"h":330,"g":290,"f":270,"r":220},{"h":333,"g":210,"f":200,"r":200},{"h":336,"g":140,"f":140,"r":200},{"h":339,"g":40,"f":50,"r":170},{"h":342,"g":10,"f":10,"r":150},{"h":345,"g":220,"f":190,"r":200},{"h":348,"g":420,"f":380,"r":240},{"h":351,"g":400,"f":360,"r":250},{"h":354,"g":300,"f":280,"r":220},{"h":357,"g":240,"f":230,"r":210},{"h":360,"g":150,"f":150,"r":200}],
"d1":[{"h":0,"g":2,"f":3,"r":3},{"h":3,"g":2,"f":2,"r":2},{"h":6,"g":5,"f":6,"r":10},{"h":9,"g":30,"f":25,"r":40},{"h":12,"g":40,"f":40,"r":50},{"h":15,"g":20,"f":25,"r":25},{"h":18,"g":10,"f":10,"r":10},{"h":21,"g":3,"f":5,"r":5},{"h":24,"g":2,"f":2,"r":3},{"h":27,"g":2,"f":2,"r":2},{"h":30,"g":5,"f":8,"r":12},{"h":33,"g":50,"f":55,"r":60},{"h":36,"g":40,"f":45,"r":35},{"h":39,"g":20,"f":25,"r":20},{"h":42,"g":8,"f":10,"r":8},{"h":45,"g":3,"f":4,"r":4},{"h":48,"g":2,"f":2,"r":3},{"h":51,"g":2,"f":2,"r":2},{"h":54,"g":5,"f":8,"r":10},{"h":57,"g":50,"f":55,"r":58},{"h":60,"g":30,"f":35,"r":30},{"h":63,"g":25,"f":25,"r":20},{"h":66,"g":8,"f":10,"r":8},{"h":69,"g":3,"f":4,"r":4},{"h":72,"g":2,"f":2,"r":3},{"h":75,"g":2,"f":2,"r":2},{"h":78,"g":6,"f":10,"r":15},{"h":81,"g":45,"f":50,"r":70},{"h":84,"g":35,"f":35,"r":45},{"h":87,"g":20,"f":20,"r":25},{"h":90,"g":8,"f":10,"r":10},{"h":93,"g":3,"f":4,"r":4},{"h":96,"g":2,"f":2,"r":3},{"h":99,"g":2,"f":2,"r":2},{"h":102,"g":5,"f":8,"r":12},{"h":105,"g":45,"f":50,"r":50},{"h":108,"g":30,"f":30,"r":35},{"h":111,"g":20,"f":20,"r":25},{"h":114,"g":8,"f":10,"r":10},{"h":117,"g":3,"f":4,"r":4},{"h":120,"g":2,"f":2,"r":3},{"h":123,"g":2,"f":2,"r":2},{"h":126,"g":10,"f":12,"r":10},{"h":129,"g":60,"f":50,"r":40},{"h":132,"g":110,"f":60,"r":30},{"h":135,"g":70,"f":45,"r":20},{"h":138,"g":20,"f":20,"r":10},{"h":141,"g":5,"f":5,"r":4},{"h":144,"g":2,"f":3,"r":3},{"h":147,"g":2,"f":2,"r":2},{"h":150,"g":15,"f":20,"r":15},{"h":153,"g":158,"f":150,"r":55},{"h":156,"g":120,"f":100,"r":40},{"h":159,"g":60,"f":70,"r":25},{"h":162,"g":25,"f":25,"r":10},{"h":165,"g":5,"f":6,"r":4},{"h":168,"g":2,"f":3,"r":3},{"h":171,"g":2,"f":2,"r":2},{"h":174,"g":20,"f":25,"r":15},{"h":177,"g":150,"f":155,"r":60},{"h":180,"g":90,"f":100,"r":45},{"h":183,"g":50,"f":60,"r":25},{"h":186,"g":20,"f":25,"r":10},{"h":189,"g":5,"f":6,"r":4},{"h":192,"g":2,"f":3,"r":3},{"h":195,"g":2,"f":2,"r":2},{"h":198,"g":15,"f":20,"r":15},{"h":201,"g":135,"f":110,"r":50},{"h":204,"g":90,"f":90,"r":40},{"h":207,"g":50,"f":60,"r":25},{"h":210,"g":20,"f":25,"r":10},{"h":213,"g":5,"f":6,"r":4},{"h":216,"g":2,"f":2,"r":3},{"h":219,"g":2,"f":2,"r":2},{"h":222,"g":8,"f":10,"r":12},{"h":225,"g":55,"f":65,"r":55},{"h":228,"g":40,"f":40,"r":40},{"h":231,"g":20,"f":25,"r":20},{"h":234,"g":8,"f":10,"r":8},{"h":237,"g":3,"f":4,"r":4},{"h":240,"g":2,"f":2,"r":3},{"h":243,"g":2,"f":2,"r":2},{"h":246,"g":6,"f":8,"r":10},{"h":249,"g":40,"f":45,"r":40},{"h":252,"g":30,"f":35,"r":30},{"h":255,"g":20,"f":20,"r":20},{"h":258,"g":8,"f":10,"r":8},{"h":261,"g":3,"f":4,"r":4},{"h":264,"g":2,"f":2,"r":3},{"h":267,"g":2,"f":2,"r":2},{"h":270,"g":6,"f":8,"r":12},{"h":273,"g":45,"f":45,"r":50},{"h":276,"g":35,"f":30,"r":35},{"h":279,"g":20,"f":20,"r":20},{"h":282,"g":8,"f":10,"r":8},{"h":285,"g":3,"f":4,"r":4},{"h":288,"g":2,"f":2,"r":3},{"h":291,"g":2,"f":2,"r":2},{"h":294,"g":6,"f":8,"r":10},{"h":297,"g":40,"f":40,"r":45},{"h":300,"g":30,"f":30,"r":30},{"h":303,"g":20,"f":20,"r":20},{"h":306,"g":8,"f":10,"r":8},{"h":309,"g":3,"f":4,"r":4},{"h":312,"g":2,"f":2,"r":3},{"h":315,"g":2,"f":2,"r":2},{"h":318,"g":10,"f":10,"r":10},{"h":321,"g":220,"f":135,"r":50},{"h":324,"g":120,"f":80,"r":40},{"h":327,"g":80,"f":50,"r":25},{"h":330,"g":25,"f":20,"r":10},{"h":333,"g":5,"f":5,"r":4},{"h":336,"g":2,"f":3,"r":3},{"h":339,"g":2,"f":2,"r":2},{"h":342,"g":10,"f":10,"r":12},{"h":345,"g":70,"f":35,"r":45},{"h":348,"g":95,"f":40,"r":40},{"h":351,"g":60,"f":30,"r":25},{"h":354,"g":20,"f":15,"r":10},{"h":357,"g":5,"f":5,"r":4},{"h":360,"g":2,"f":3,"r":3}],
"d2":[{"h":0,"g":2,"f":2,"r":2},{"h":3,"g":1,"f":1,"r":1},{"h":6,"g":2,"f":2,"r":3},{"h":9,"g":10,"f":10,"r":15},{"h":12,"g":30,"f":35,"r":30},{"h":15,"g":20,"f":25,"r":25},{"h":18,"g":10,"f":10,"r":10},{"h":21,"g":5,"f":5,"r":5},{"h":24,"g":2,"f":2,"r":2},{"h":27,"g":1,"f":1,"r":1},{"h":30,"g":2,"f":2,"r":3},{"h":33,"g":10,"f":10,"r":15},{"h":36,"g":35,"f":35,"r":38},{"h":39,"g":25,"f":20,"r":25},{"h":42,"g":10,"f":10,"r":10},{"h":45,"g":5,"f":5,"r":5},{"h":48,"g":2,"f":2,"r":2},{"h":51,"g":1,"f":1,"r":1},{"h":54,"g":2,"f":2,"r":3},{"h":57,"g":10,"f":10,"r":15},{"h":60,"g":30,"f":30,"r":35},{"h":63,"g":20,"f":20,"r":25},{"h":66,"g":8,"f":10,"r":10},{"h":69,"g":4,"f":5,"r":5},{"h":72,"g":2,"f":2,"r":2},{"h":75,"g":1,"f":1,"r":1},{"h":78,"g":2,"f":2,"r":3},{"h":81,"g":15,"f":15,"r":15},{"h":84,"g":45,"f":45,"r":45},{"h":87,"g":30,"f":30,"r":30},{"h":90,"g":10,"f":10,"r":10},{"h":93,"g":5,"f":5,"r":5},{"h":96,"g":2,"f":2,"r":2},{"h":99,"g":1,"f":1,"r":1},{"h":102,"g":2,"f":2,"r":3},{"h":105,"g":10,"f":10,"r":20},{"h":108,"g":25,"f":25,"r":30},{"h":111,"g":20,"f":20,"r":20},{"h":114,"g":10,"f":10,"r":10},{"h":117,"g":5,"f":5,"r":5},{"h":120,"g":2,"f":2,"r":2},{"h":123,"g":1,"f":1,"r":1},{"h":126,"g":5,"f":5,"r":3},{"h":129,"g":30,"f":40,"r":15},{"h":132,"g":60,"f":65,"r":25},{"h":135,"g":40,"f":50,"r":20},{"h":138,"g":125,"f":60,"r":25},{"h":141,"g":30,"f":20,"r":10},{"h":144,"g":5,"f":5,"r":3},{"h":147,"g":2,"f":2,"r":1},{"h":150,"g":5,"f":5,"r":3},{"h":153,"g":40,"f":40,"r":15},{"h":156,"g":98,"f":90,"r":35},{"h":159,"g":90,"f":80,"r":30},{"h":162,"g":45,"f":45,"r":20},{"h":165,"g":20,"f":15,"r":8},{"h":168,"g":5,"f":5,"r":3},{"h":171,"g":2,"f":2,"r":1},{"h":174,"g":5,"f":5,"r":3},{"h":177,"g":50,"f":40,"r":20},{"h":180,"g":105,"f":90,"r":38},{"h":183,"g":60,"f":60,"r":30},{"h":186,"g":35,"f":40,"r":15},{"h":189,"g":15,"f":15,"r":8},{"h":192,"g":5,"f":5,"r":3},{"h":195,"g":2,"f":2,"r":1},{"h":198,"g":5,"f":5,"r":3},{"h":201,"g":40,"f":40,"r":15},{"h":204,"g":112,"f":85,"r":35},{"h":207,"g":70,"f":60,"r":30},{"h":210,"g":30,"f":30,"r":15},{"h":213,"g":10,"f":10,"r":6},{"h":216,"g":3,"f":3,"r":2},{"h":219,"g":1,"f":1,"r":1},{"h":222,"g":2,"f":2,"r":3},{"h":225,"g":10,"f":10,"r":15},{"h":228,"g":30,"f":32,"r":32},{"h":231,"g":20,"f":20,"r":20},{"h":234,"g":8,"f":10,"r":10},{"h":237,"g":4,"f":5,"r":5},{"h":240,"g":2,"f":2,"r":2},{"h":243,"g":1,"f":1,"r":1},{"h":246,"g":2,"f":2,"r":3},{"h":249,"g":10,"f":10,"r":15},{"h":252,"g":25,"f":30,"r":25},{"h":255,"g":20,"f":25,"r":20},{"h":258,"g":8,"f":10,"r":10},{"h":261,"g":4,"f":5,"r":5},{"h":264,"g":2,"f":2,"r":2},{"h":267,"g":1,"f":1,"r":1},{"h":270,"g":2,"f":2,"r":3},{"h":273,"g":15,"f":15,"r":15},{"h":276,"g":35,"f":30,"r":30},{"h":279,"g":25,"f":25,"r":20},{"h":282,"g":10,"f":10,"r":10},{"h":285,"g":5,"f":5,"r":5},{"h":288,"g":2,"f":2,"r":2},{"h":291,"g":1,"f":1,"r":1},{"h":294,"g":2,"f":2,"r":3},{"h":297,"g":10,"f":10,"r":15},{"h":300,"g":30,"f":30,"r":30},{"h":303,"g":25,"f":20,"r":20},{"h":306,"g":10,"f":10,"r":10},{"h":309,"g":5,"f":5,"r":5},{"h":312,"g":2,"f":2,"r":2},{"h":315,"g":1,"f":1,"r":1},{"h":318,"g":2,"f":2,"r":3},{"h":321,"g":15,"f":15,"r":15},{"h":324,"g":60,"f":40,"r":35},{"h":327,"g":50,"f":35,"r":25},{"h":330,"g":25,"f":15,"r":10},{"h":333,"g":8,"f":5,"r":5},{"h":336,"g":2,"f":2,"r":2},{"h":339,"g":1,"f":1,"r":1},{"h":342,"g":2,"f":2,"r":3},{"h":345,"g":20,"f":15,"r":15},{"h":348,"g":90,"f":35,"r":30},{"h":351,"g":60,"f":30,"r":25},{"h":354,"g":30,"f":15,"r":10},{"h":357,"g":8,"f":5,"r":5},{"h":360,"g":2,"f":2,"r":2}],
"e1":[{"h":0,"g":400,"f":380,"r":400},{"h":3,"g":40,"f":80,"r":100},{"h":6,"g":500,"f":450,"r":450},{"h":9,"g":550,"f":500,"r":500},{"h":12,"g":700,"f":650,"r":600},{"h":15,"g":600,"f":520,"r":520},{"h":18,"g":700,"f":580,"r":550},{"h":21,"g":500,"f":480,"r":450},{"h":24,"g":200,"f":180,"r":200},{"h":27,"g":60,"f":60,"r":80},{"h":30,"g":450,"f":480,"r":450},{"h":33,"g":550,"f":520,"r":520},{"h":36,"g":600,"f":600,"r":580},{"h":39,"g":550,"f":550,"r":550},{"h":42,"g":580,"f":600,"r":580},{"h":45,"g":500,"f":500,"r":480},{"h":48,"g":250,"f":200,"r":250},{"h":51,"g":100,"f":100,"r":120},{"h":54,"g":500,"f":480,"r":450},{"h":57,"g":680,"f":560,"r":560},{"h":60,"g":600,"f":560,"r":560},{"h":63,"g":520,"f":500,"r":500},{"h":66,"g":500,"f":540,"r":540},{"h":69,"g":450,"f":400,"r":400},{"h":72,"g":200,"f":150,"r":150},{"h":75,"g":100,"f":90,"r":90},{"h":78,"g":450,"f":380,"r":450},{"h":81,"g":1000,"f":400,"r":500},{"h":84,"g":950,"f":380,"r":520},{"h":87,"g":500,"f":380,"r":550},{"h":90,"g":100,"f":200,"r":450},{"h":93,"g":20,"f":30,"r":300},{"h":96,"g":5,"f":0,"r":150},{"h":99,"g":5,"f":10,"r":100},{"h":102,"g":5,"f":80,"r":450},{"h":105,"g":10,"f":100,"r":550},{"h":108,"g":5,"f":60,"r":500},{"h":111,"g":5,"f":30,"r":560},{"h":114,"g":5,"f":0,"r":500},{"h":117,"g":5,"f":10,"r":450},{"h":120,"g":5,"f":0,"r":200},{"h":123,"g":5,"f":5,"r":100},{"h":126,"g":5,"f":20,"r":350},{"h":129,"g":10,"f":20,"r":550},{"h":132,"g":30,"f":150,"r":560},{"h":135,"g":50,"f":180,"r":500},{"h":138,"g":60,"f":120,"r":550},{"h":141,"g":50,"f":100,"r":450},{"h":144,"g":30,"f":50,"r":200},{"h":147,"g":5,"f":20,"r":100},{"h":150,"g":50,"f":100,"r":400},{"h":153,"g":150,"f":280,"r":550},{"h":156,"g":150,"f":300,"r":500},{"h":159,"g":100,"f":300,"r":560},{"h":162,"g":80,"f":250,"r":500},{"h":165,"g":60,"f":150,"r":450},{"h":168,"g":20,"f":60,"r":200},{"h":171,"g":5,"f":30,"r":80},{"h":174,"g":50,"f":200,"r":400},{"h":177,"g":200,"f":420,"r":550},{"h":180,"g":250,"f":450,"r":500},{"h":183,"g":220,"f":420,"r":560},{"h":186,"g":150,"f":400,"r":550},{"h":189,"g":80,"f":300,"r":450},{"h":192,"g":30,"f":100,"r":200},{"h":195,"g":10,"f":60,"r":120},{"h":198,"g":200,"f":450,"r":450},{"h":201,"g":300,"f":550,"r":550},{"h":204,"g":320,"f":560,"r":560},{"h":207,"g":300,"f":500,"r":500},{"h":210,"g":350,"f":560,"r":560},{"h":213,"g":250,"f":450,"r":450},{"h":216,"g":80,"f":150,"r":150},{"h":219,"g":50,"f":100,"r":100},{"h":222,"g":250,"f":450,"r":450},{"h":225,"g":350,"f":520,"r":520},{"h":228,"g":380,"f":600,"r":600},{"h":231,"g":350,"f":500,"r":500},{"h":234,"g":400,"f":550,"r":550},{"h":237,"g":300,"f":450,"r":450},{"h":240,"g":80,"f":150,"r":150},{"h":243,"g":0,"f":80,"r":80},{"h":246,"g":300,"f":450,"r":450},{"h":249,"g":1000,"f":520,"r":520},{"h":252,"g":400,"f":580,"r":580},{"h":255,"g":350,"f":520,"r":520},{"h":258,"g":400,"f":560,"r":560},{"h":261,"g":300,"f":480,"r":480},{"h":264,"g":100,"f":150,"r":150},{"h":267,"g":20,"f":60,"r":60},{"h":270,"g":400,"f":450,"r":450},{"h":273,"g":500,"f":550,"r":550},{"h":276,"g":550,"f":600,"r":600},{"h":279,"g":500,"f":520,"r":520},{"h":282,"g":550,"f":560,"r":560},{"h":285,"g":450,"f":480,"r":480},{"h":288,"g":150,"f":150,"r":150},{"h":291,"g":60,"f":60,"r":60},{"h":294,"g":450,"f":450,"r":450},{"h":297,"g":550,"f":550,"r":550},{"h":300,"g":600,"f":600,"r":600},{"h":303,"g":520,"f":520,"r":520},{"h":306,"g":550,"f":560,"r":560},{"h":309,"g":450,"f":480,"r":480},{"h":312,"g":150,"f":180,"r":180},{"h":315,"g":60,"f":60,"r":60},{"h":318,"g":450,"f":450,"r":450},{"h":321,"g":500,"f":550,"r":550},{"h":324,"g":600,"f":600,"r":600},{"h":327,"g":500,"f":520,"r":520},{"h":330,"g":500,"f":560,"r":560},{"h":333,"g":450,"f":480,"r":480},{"h":336,"g":150,"f":150,"r":150},{"h":339,"g":60,"f":60,"r":60},{"h":342,"g":400,"f":450,"r":450},{"h":345,"g":500,"f":500,"r":500},{"h":348,"g":550,"f":580,"r":580},{"h":351,"g":480,"f":500,"r":500},{"h":354,"g":450,"f":520,"r":520},{"h":357,"g":400,"f":450,"r":450},{"h":360,"g":350,"f":350,"r":350}],
"e2":[{"h":0,"g":450,"f":500,"r":480},{"h":3,"g":100,"f":100,"r":150},{"h":6,"g":50,"f":30,"r":60},{"h":9,"g":880,"f":700,"r":650},{"h":12,"g":650,"f":620,"r":620},{"h":15,"g":550,"f":580,"r":580},{"h":18,"g":600,"f":620,"r":620},{"h":21,"g":650,"f":650,"r":640},{"h":24,"g":300,"f":350,"r":350},{"h":27,"g":80,"f":80,"r":100},{"h":30,"g":20,"f":10,"r":50},{"h":33,"g":750,"f":700,"r":680},{"h":36,"g":650,"f":640,"r":640},{"h":39,"g":600,"f":580,"r":600},{"h":42,"g":550,"f":560,"r":560},{"h":45,"g":650,"f":680,"r":680},{"h":48,"g":350,"f":350,"r":350},{"h":51,"g":100,"f":100,"r":120},{"h":54,"g":50,"f":80,"r":80},{"h":57,"g":650,"f":660,"r":650},{"h":60,"g":650,"f":620,"r":620},{"h":63,"g":550,"f":550,"r":560},{"h":66,"g":600,"f":600,"r":600},{"h":69,"g":550,"f":580,"r":580},{"h":72,"g":250,"f":250,"r":300},{"h":75,"g":80,"f":70,"r":80},{"h":78,"g":200,"f":300,"r":450},{"h":81,"g":700,"f":550,"r":650},{"h":84,"g":750,"f":500,"r":640},{"h":87,"g":650,"f":450,"r":600},{"h":90,"g":550,"f":500,"r":650},{"h":93,"g":400,"f":420,"r":620},{"h":96,"g":100,"f":200,"r":500},{"h":99,"g":5,"f":20,"r":150},{"h":102,"g":5,"f":10,"r":100},{"h":105,"g":30,"f":80,"r":620},{"h":108,"g":60,"f":120,"r":600},{"h":111,"g":40,"f":100,"r":580},{"h":114,"g":20,"f":60,"r":650},{"h":117,"g":10,"f":30,"r":560},{"h":120,"g":5,"f":10,"r":400},{"h":123,"g":5,"f":5,"r":100},{"h":126,"g":10,"f":20,"r":50},{"h":129,"g":60,"f":150,"r":600},{"h":132,"g":80,"f":220,"r":650},{"h":135,"g":100,"f":250,"r":600},{"h":138,"g":80,"f":200,"r":650},{"h":141,"g":50,"f":100,"r":550},{"h":144,"g":20,"f":50,"r":300},{"h":147,"g":5,"f":10,"r":80},{"h":150,"g":20,"f":80,"r":200},{"h":153,"g":150,"f":300,"r":620},{"h":156,"g":180,"f":380,"r":650},{"h":159,"g":150,"f":350,"r":600},{"h":162,"g":120,"f":330,"r":650},{"h":165,"g":100,"f":250,"r":550},{"h":168,"g":30,"f":80,"r":300},{"h":171,"g":10,"f":30,"r":80},{"h":174,"g":60,"f":150,"r":150},{"h":177,"g":250,"f":450,"r":600},{"h":180,"g":300,"f":500,"r":620},{"h":183,"g":250,"f":480,"r":600},{"h":186,"g":280,"f":520,"r":650},{"h":189,"g":200,"f":400,"r":550},{"h":192,"g":50,"f":120,"r":200},{"h":195,"g":20,"f":50,"r":80},{"h":198,"g":100,"f":150,"r":150},{"h":201,"g":500,"f":600,"r":620},{"h":204,"g":450,"f":620,"r":620},{"h":207,"g":400,"f":580,"r":580},{"h":210,"g":450,"f":680,"r":680},{"h":213,"g":400,"f":600,"r":600},{"h":216,"g":150,"f":200,"r":200},{"h":219,"g":50,"f":60,"r":60},{"h":222,"g":100,"f":100,"r":100},{"h":225,"g":550,"f":580,"r":580},{"h":228,"g":550,"f":600,"r":600},{"h":231,"g":500,"f":560,"r":560},{"h":234,"g":580,"f":640,"r":640},{"h":237,"g":500,"f":560,"r":560},{"h":240,"g":200,"f":250,"r":250},{"h":243,"g":20,"f":30,"r":30},{"h":246,"g":50,"f":60,"r":60},{"h":249,"g":600,"f":620,"r":620},{"h":252,"g":550,"f":600,"r":600},{"h":255,"g":600,"f":580,"r":580},{"h":258,"g":900,"f":680,"r":680},{"h":261,"g":800,"f":600,"r":600},{"h":264,"g":300,"f":300,"r":300},{"h":267,"g":50,"f":50,"r":50},{"h":270,"g":30,"f":30,"r":30},{"h":273,"g":600,"f":650,"r":650},{"h":276,"g":450,"f":600,"r":600},{"h":279,"g":400,"f":580,"r":580},{"h":282,"g":450,"f":620,"r":620},{"h":285,"g":500,"f":600,"r":600},{"h":288,"g":250,"f":300,"r":300},{"h":291,"g":50,"f":50,"r":50},{"h":294,"g":30,"f":30,"r":30},{"h":297,"g":650,"f":650,"r":650},{"h":300,"g":550,"f":620,"r":620},{"h":303,"g":500,"f":580,"r":580},{"h":306,"g":550,"f":640,"r":640},{"h":309,"g":600,"f":700,"r":700},{"h":312,"g":250,"f":300,"r":300},{"h":315,"g":30,"f":0,"r":40},{"h":318,"g":50,"f":50,"r":50},{"h":321,"g":750,"f":620,"r":620},{"h":324,"g":600,"f":550,"r":580},{"h":327,"g":400,"f":350,"r":550},{"h":330,"g":550,"f":600,"r":620},{"h":333,"g":500,"f":560,"r":600},{"h":336,"g":250,"f":250,"r":280},{"h":339,"g":20,"f":0,"r":40},{"h":342,"g":50,"f":50,"r":50},{"h":345,"g":650,"f":600,"r":620},{"h":348,"g":600,"f":580,"r":600},{"h":351,"g":500,"f":500,"r":550},{"h":354,"g":550,"f":580,"r":620},{"h":357,"g":400,"f":450,"r":550},{"h":360,"g":350,"f":350,"r":400}]
},
"resolve":{"scale":{"color":"independent","strokeDash":"independent"},"legend":{"color":"independent","strokeDash":"independent"}},
"vconcat":[
{"hconcat":[
{"width":433,"height":90,"data":{"name":"a1"},
"encoding":{"x":{"field":"h","type":"quantitative","scale":{"domain":[0,360]},"axis":{"values":[0,48,96,144,192,240,288,336],"labelExpr":"'10/'+(datum.value/24+1<10?'0':'')+(datum.value/24+1)","title":null}},"y":{"field":"v","type":"quantitative","scale":{"domain":[0,1290]},"axis":{"values":[0,500,1000],"title":"#drop offs"}}},
"layer":[
{"transform":[{"fold":["g","f","r"],"as":["k","v"]},{"filter":"datum.k=='g'"}],"mark":{"type":"point","color":"#a8a8a8"}},
{"transform":[{"fold":["g","f","r"],"as":["k","v"]}],"mark":"line","encoding":{
"color":{"field":"k","type":"nominal","scale":{"domain":["g","f","r"],"range":["#a8a8a8","#ff0000","#0000ff"]},"legend":{"title":null,"legendX":89,"legendY":-24,"labelExpr":"datum.value=='g'?'Ground truth':datum.value=='f'?'Fitted':'Random (100)'","encode":{"symbols":{"shape":{"value":{"expr":"datum.value=='g'?'M-1,0H-0.25M0.25,0H1M0.25,0A0.25,0.25,0,1,1,-0.25,0A0.25,0.25,0,1,1,0.25,0':'stroke'"}}}}}},
"strokeDash":{"field":"k","type":"nominal","scale":{"domain":["g","f","r"],"range":[[1,0],[1,0],[5,2.5,1,2.5]]},"legend":{"title":null,"legendX":89,"legendY":-24,"labelExpr":"datum.value=='g'?'Ground truth':datum.value=='f'?'Fitted':'Random (100)'","encode":{"symbols":{"shape":{"value":{"expr":"datum.value=='g'?'M-1,0H-0.25M0.25,0H1M0.25,0A0.25,0.25,0,1,1,-0.25,0A0.25,0.25,0,1,1,0.25,0':'stroke'"}}}}}}}}
]},
{"width":429,"height":90,"data":{"name":"a2"},"view":{"stroke":null},"resolve":{"axis":{"x":"independent"}},
"encoding":{"x":{"field":"h","type":"quantitative","scale":{"domain":[0,351]},"axis":{"values":[0,48,96,144,192,240,288,336],"labelExpr":"'10/'+(datum.value/24+1<10?'0':'')+(datum.value/24+1)","title":null,"domain":true}},"y":{"field":"v","type":"quantitative","scale":{"domain":[0,1700]},"axis":{"values":[0,500,1000,1500],"title":"#pick ups","domain":true}}},
"layer":[
{"transform":[{"fold":["g","f","r"],"as":["k","v"]},{"filter":"datum.k=='g'"}],"mark":{"type":"point","color":"#a8a8a8"},"encoding":{"x":{"field":"h","type":"quantitative","scale":{"domain":[0,351]},"axis":{"orient":"top","labels":false,"grid":false,"domain":true,"title":null}}}},
{"transform":[{"fold":["g","f","r"],"as":["k","v"]}],"mark":"line","encoding":{
"color":{"field":"k","type":"nominal","scale":{"domain":["g","f","r"],"range":["#a8a8a8","#ff0000","#0000ff"]},"legend":{"title":null,"legendX":89,"legendY":-24,"labelExpr":"datum.value=='g'?'Ground truth':datum.value=='f'?'Fitted':'Random (100)'","encode":{"symbols":{"shape":{"value":{"expr":"datum.value=='g'?'M-1,0H-0.25M0.25,0H1M0.25,0A0.25,0.25,0,1,1,-0.25,0A0.25,0.25,0,1,1,0.25,0':'stroke'"}}}}}},
"strokeDash":{"field":"k","type":"nominal","scale":{"domain":["g","f","r"],"range":[[1,0],[1,0],[5,2.5,1,2.5]]},"legend":{"title":null,"legendX":89,"legendY":-24,"labelExpr":"datum.value=='g'?'Ground truth':datum.value=='f'?'Fitted':'Random (100)'","encode":{"symbols":{"shape":{"value":{"expr":"datum.value=='g'?'M-1,0H-0.25M0.25,0H1M0.25,0A0.25,0.25,0,1,1,-0.25,0A0.25,0.25,0,1,1,0.25,0':'stroke'"}}}}}}}}
]}
],"spacing":137,"bounds":"flush","resolve":{"scale":{"color":"independent","strokeDash":"independent"},"legend":{"color":"independent","strokeDash":"independent"}},"title":{"text":"(a)  Madison Square Garden. Traffic explained by POI. More details in Figure 9(a)."}},
{"hconcat":[
{"width":433,"height":88,"data":{"name":"b1"},
"encoding":{"x":{"field":"h","type":"quantitative","scale":{"domain":[0,360]},"axis":{"values":[0,48,96,144,192,240,288,336],"labelExpr":"'10/'+(datum.value/24+1<10?'0':'')+(datum.value/24+1)","title":null}},"y":{"field":"v","type":"quantitative","scale":{"domain":[0,1300]},"axis":{"values":[0,500,1000],"title":"#drop offs"}}},
"layer":[
{"transform":[{"fold":["g","f","r"],"as":["k","v"]},{"filter":"datum.k=='g'"}],"mark":{"type":"point","color":"#a8a8a8"}},
{"transform":[{"fold":["g","f","r"],"as":["k","v"]}],"mark":"line","encoding":{
"color":{"field":"k","type":"nominal","scale":{"domain":["g","f","r"],"range":["#a8a8a8","#ff0000","#0000ff"]},"legend":{"title":null,"legendX":89,"legendY":-24,"labelExpr":"datum.value=='g'?'Ground truth':datum.value=='f'?'Fitted':'Random (100)'","encode":{"symbols":{"shape":{"value":{"expr":"datum.value=='g'?'M-1,0H-0.25M0.25,0H1M0.25,0A0.25,0.25,0,1,1,-0.25,0A0.25,0.25,0,1,1,0.25,0':'stroke'"}}}}}},
"strokeDash":{"field":"k","type":"nominal","scale":{"domain":["g","f","r"],"range":[[1,0],[1,0],[5,2.5,1,2.5]]},"legend":{"title":null,"legendX":89,"legendY":-24,"labelExpr":"datum.value=='g'?'Ground truth':datum.value=='f'?'Fitted':'Random (100)'","encode":{"symbols":{"shape":{"value":{"expr":"datum.value=='g'?'M-1,0H-0.25M0.25,0H1M0.25,0A0.25,0.25,0,1,1,-0.25,0A0.25,0.25,0,1,1,0.25,0':'stroke'"}}}}}}}}
]},
{"width":429,"height":88,"data":{"name":"b2"},"view":{"stroke":null},"resolve":{"axis":{"x":"independent"}},
"encoding":{"x":{"field":"h","type":"quantitative","scale":{"domain":[0,351]},"axis":{"values":[0,48,96,144,192,240,288,336],"labelExpr":"'10/'+(datum.value/24+1<10?'0':'')+(datum.value/24+1)","title":null,"domain":true}},"y":{"field":"v","type":"quantitative","scale":{"domain":[0,1240]},"axis":{"values":[0,500,1000],"title":"#pick ups","domain":true}}},
"layer":[
{"transform":[{"fold":["g","f","r"],"as":["k","v"]},{"filter":"datum.k=='g'"}],"mark":{"type":"point","color":"#a8a8a8"},"encoding":{"x":{"field":"h","type":"quantitative","scale":{"domain":[0,351]},"axis":{"orient":"top","labels":false,"grid":false,"domain":true,"title":null}}}},
{"transform":[{"fold":["g","f","r"],"as":["k","v"]}],"mark":"line","encoding":{
"color":{"field":"k","type":"nominal","scale":{"domain":["g","f","r"],"range":["#a8a8a8","#ff0000","#0000ff"]},"legend":{"title":null,"legendX":89,"legendY":-24,"labelExpr":"datum.value=='g'?'Ground truth':datum.value=='f'?'Fitted':'Random (100)'","encode":{"symbols":{"shape":{"value":{"expr":"datum.value=='g'?'M-1,0H-0.25M0.25,0H1M0.25,0A0.25,0.25,0,1,1,-0.25,0A0.25,0.25,0,1,1,0.25,0':'stroke'"}}}}}},
"strokeDash":{"field":"k","type":"nominal","scale":{"domain":["g","f","r"],"range":[[1,0],[1,0],[5,2.5,1,2.5]]},"legend":{"title":null,"legendX":89,"legendY":-24,"labelExpr":"datum.value=='g'?'Ground truth':datum.value=='f'?'Fitted':'Random (100)'","encode":{"symbols":{"shape":{"value":{"expr":"datum.value=='g'?'M-1,0H-0.25M0.25,0H1M0.25,0A0.25,0.25,0,1,1,-0.25,0A0.25,0.25,0,1,1,0.25,0':'stroke'"}}}}}}}}
]}
],"spacing":137,"bounds":"flush","resolve":{"scale":{"color":"independent","strokeDash":"independent"},"legend":{"color":"independent","strokeDash":"independent"}},"title":{"text":"(b)  Times Square. Traffic explained by POI. More details in Figure 9(b)."}},
{"hconcat":[
{"width":433,"height":88,"data":{"name":"c1"},
"encoding":{"x":{"field":"h","type":"quantitative","scale":{"domain":[0,360]},"axis":{"values":[0,48,96,144,192,240,288,336],"labelExpr":"'10/'+(datum.value/24+1<10?'0':'')+(datum.value/24+1)","title":null}},"y":{"field":"v","type":"quantitative","scale":{"domain":[0,560]},"axis":{"values":[0,200,400],"title":"#drop offs"}}},
"layer":[
{"transform":[{"fold":["g","f","r"],"as":["k","v"]},{"filter":"datum.k=='g'"}],"mark":{"type":"point","color":"#a8a8a8"}},
{"transform":[{"fold":["g","f","r"],"as":["k","v"]}],"mark":"line","encoding":{
"color":{"field":"k","type":"nominal","scale":{"domain":["g","f","r"],"range":["#a8a8a8","#ff0000","#0000ff"]},"legend":{"title":null,"legendX":89,"legendY":-24,"labelExpr":"datum.value=='g'?'Ground truth':datum.value=='f'?'Fitted':'Random (100)'","encode":{"symbols":{"shape":{"value":{"expr":"datum.value=='g'?'M-1,0H-0.25M0.25,0H1M0.25,0A0.25,0.25,0,1,1,-0.25,0A0.25,0.25,0,1,1,0.25,0':'stroke'"}}}}}},
"strokeDash":{"field":"k","type":"nominal","scale":{"domain":["g","f","r"],"range":[[1,0],[1,0],[5,2.5,1,2.5]]},"legend":{"title":null,"legendX":89,"legendY":-24,"labelExpr":"datum.value=='g'?'Ground truth':datum.value=='f'?'Fitted':'Random (100)'","encode":{"symbols":{"shape":{"value":{"expr":"datum.value=='g'?'M-1,0H-0.25M0.25,0H1M0.25,0A0.25,0.25,0,1,1,-0.25,0A0.25,0.25,0,1,1,0.25,0':'stroke'"}}}}}}}}
]},
{"width":429,"height":88,"data":{"name":"c2"},"view":{"stroke":null},"resolve":{"axis":{"x":"independent"}},
"encoding":{"x":{"field":"h","type":"quantitative","scale":{"domain":[0,351]},"axis":{"values":[0,48,96,144,192,240,288,336],"labelExpr":"'10/'+(datum.value/24+1<10?'0':'')+(datum.value/24+1)","title":null,"domain":true}},"y":{"field":"v","type":"quantitative","scale":{"domain":[0,540]},"axis":{"values":[0,200,400],"title":"#pick ups","domain":true}}},
"layer":[
{"transform":[{"fold":["g","f","r"],"as":["k","v"]},{"filter":"datum.k=='g'"}],"mark":{"type":"point","color":"#a8a8a8"},"encoding":{"x":{"field":"h","type":"quantitative","scale":{"domain":[0,351]},"axis":{"orient":"top","labels":false,"grid":false,"domain":true,"title":null}}}},
{"transform":[{"fold":["g","f","r"],"as":["k","v"]}],"mark":"line","encoding":{
"color":{"field":"k","type":"nominal","scale":{"domain":["g","f","r"],"range":["#a8a8a8","#ff0000","#0000ff"]},"legend":{"title":null,"legendX":89,"legendY":-24,"labelExpr":"datum.value=='g'?'Ground truth':datum.value=='f'?'Fitted':'Random (100)'","encode":{"symbols":{"shape":{"value":{"expr":"datum.value=='g'?'M-1,0H-0.25M0.25,0H1M0.25,0A0.25,0.25,0,1,1,-0.25,0A0.25,0.25,0,1,1,0.25,0':'stroke'"}}}}}},
"strokeDash":{"field":"k","type":"nominal","scale":{"domain":["g","f","r"],"range":[[1,0],[1,0],[5,2.5,1,2.5]]},"legend":{"title":null,"legendX":89,"legendY":-24,"labelExpr":"datum.value=='g'?'Ground truth':datum.value=='f'?'Fitted':'Random (100)'","encode":{"symbols":{"shape":{"value":{"expr":"datum.value=='g'?'M-1,0H-0.25M0.25,0H1M0.25,0A0.25,0.25,0,1,1,-0.25,0A0.25,0.25,0,1,1,0.25,0':'stroke'"}}}}}}}}
]}
],"spacing":137,"bounds":"flush","resolve":{"scale":{"color":"independent","strokeDash":"independent"},"legend":{"color":"independent","strokeDash":"independent"}},"title":{"text":"(c)  Fifth Avenue. Traffic explained by POI. More details in Figure 9(c)."}},
{"hconcat":[
{"width":433,"height":88,"data":{"name":"d1"},
"encoding":{"x":{"field":"h","type":"quantitative","scale":{"domain":[0,360]},"axis":{"values":[24,72,120,168,216,264,312],"labelExpr":"'10/'+(datum.value/24+6<10?'0':'')+(datum.value/24+6)","title":null}},"y":{"field":"v","type":"quantitative","scale":{"domain":[0,240]},"axis":{"values":[0,100,200],"title":"#drop offs"}}},
"layer":[
{"transform":[{"fold":["g","f","r"],"as":["k","v"]},{"filter":"datum.k=='g'"}],"mark":{"type":"point","color":"#a8a8a8"}},
{"transform":[{"fold":["g","f","r"],"as":["k","v"]}],"mark":"line","encoding":{
"color":{"field":"k","type":"nominal","scale":{"domain":["g","f","r"],"range":["#a8a8a8","#ff0000","#0000ff"]},"legend":{"title":null,"legendX":96,"legendY":-24,"labelExpr":"datum.value=='g'?'Ground truth':datum.value=='f'?'Fitted':'No event'","encode":{"symbols":{"shape":{"value":{"expr":"datum.value=='g'?'M-1,0H-0.25M0.25,0H1M0.25,0A0.25,0.25,0,1,1,-0.25,0A0.25,0.25,0,1,1,0.25,0':'stroke'"}}}}}},
"strokeDash":{"field":"k","type":"nominal","scale":{"domain":["g","f","r"],"range":[[1,0],[1,0],[5,2.5,1,2.5]]},"legend":{"title":null,"legendX":96,"legendY":-24,"labelExpr":"datum.value=='g'?'Ground truth':datum.value=='f'?'Fitted':'No event'","encode":{"symbols":{"shape":{"value":{"expr":"datum.value=='g'?'M-1,0H-0.25M0.25,0H1M0.25,0A0.25,0.25,0,1,1,-0.25,0A0.25,0.25,0,1,1,0.25,0':'stroke'"}}}}}}}},
{"data":{"values":[{"h":76,"v":211,"t":"New York Comic Con Event, October 11–14, 2012"}]},"mark":{"type":"text","align":"left","baseline":"middle","fontSize":12,"color":"#222"},"encoding":{"text":{"field":"t","type":"nominal"}}},
{"data":{"values":[{"h":120,"h2":216,"v":183}]},"mark":{"type":"rule","color":"#222","strokeWidth":1.2},"encoding":{"x2":{"field":"h2"}}},
{"data":{"values":[{"h":120,"v":0,"v2":183},{"h":216,"v":0,"v2":183}]},"mark":{"type":"rule","color":"#222","strokeWidth":1,"strokeDash":[5,2,1,2]},"encoding":{"y2":{"field":"v2"}}},
{"data":{"values":[{"h":122.5,"v":183,"s":"triangle-left"},{"h":213.5,"v":183,"s":"triangle-right"}]},"mark":{"type":"point","filled":true,"color":"#222","size":40,"strokeWidth":0,"clip":false},"encoding":{"shape":{"field":"s","type":"nominal","scale":null}}}
]},
{"width":429,"height":88,"data":{"name":"d2"},"view":{"stroke":null},"resolve":{"axis":{"x":"independent"}},
"encoding":{"x":{"field":"h","type":"quantitative","scale":{"domain":[0,351]},"axis":{"values":[24,72,120,168,216,264,312],"labelExpr":"'10/'+(datum.value/24+6<10?'0':'')+(datum.value/24+6)","title":null,"domain":true}},"y":{"field":"v","type":"quantitative","scale":{"domain":[0,143]},"axis":{"values":[0,50,100],"title":"#pick ups","domain":true}}},
"layer":[
{"transform":[{"fold":["g","f","r"],"as":["k","v"]},{"filter":"datum.k=='g'"}],"mark":{"type":"point","color":"#a8a8a8"},"encoding":{"x":{"field":"h","type":"quantitative","scale":{"domain":[0,351]},"axis":{"orient":"top","labels":false,"grid":false,"domain":true,"title":null}}}},
{"transform":[{"fold":["g","f","r"],"as":["k","v"]}],"mark":"line","encoding":{
"color":{"field":"k","type":"nominal","scale":{"domain":["g","f","r"],"range":["#a8a8a8","#ff0000","#0000ff"]},"legend":{"title":null,"legendX":100,"legendY":-24,"labelExpr":"datum.value=='g'?'Ground truth':datum.value=='f'?'Fitted':'No event'","encode":{"symbols":{"shape":{"value":{"expr":"datum.value=='g'?'M-1,0H-0.25M0.25,0H1M0.25,0A0.25,0.25,0,1,1,-0.25,0A0.25,0.25,0,1,1,0.25,0':'stroke'"}}}}}},
"strokeDash":{"field":"k","type":"nominal","scale":{"domain":["g","f","r"],"range":[[1,0],[1,0],[5,2.5,1,2.5]]},"legend":{"title":null,"legendX":100,"legendY":-24,"labelExpr":"datum.value=='g'?'Ground truth':datum.value=='f'?'Fitted':'No event'","encode":{"symbols":{"shape":{"value":{"expr":"datum.value=='g'?'M-1,0H-0.25M0.25,0H1M0.25,0A0.25,0.25,0,1,1,-0.25,0A0.25,0.25,0,1,1,0.25,0':'stroke'"}}}}}}}},
{"data":{"values":[{"h":78,"v":124,"t":"New York Comic Con Event, October 11–14, 2012"}]},"mark":{"type":"text","align":"left","baseline":"middle","fontSize":12,"color":"#222"},"encoding":{"x":{"field":"h","type":"quantitative","axis":null},"text":{"field":"t","type":"nominal"}}},
{"data":{"values":[{"h":120,"h2":216,"v":106}]},"mark":{"type":"rule","color":"#222","strokeWidth":1.2},"encoding":{"x":{"field":"h","type":"quantitative","axis":null},"x2":{"field":"h2"}}},
{"data":{"values":[{"h":120,"v":0,"v2":106},{"h":216,"v":0,"v2":106}]},"mark":{"type":"rule","color":"#222","strokeWidth":1,"strokeDash":[5,2,1,2]},"encoding":{"x":{"field":"h","type":"quantitative","axis":null},"y2":{"field":"v2"}}},
{"data":{"values":[{"h":122.5,"v":106,"s":"triangle-left"},{"h":213.5,"v":106,"s":"triangle-right"}]},"mark":{"type":"point","filled":true,"color":"#222","size":40,"strokeWidth":0,"clip":false},"encoding":{"x":{"field":"h","type":"quantitative","axis":null},"shape":{"field":"s","type":"nominal","scale":null}}}
]}
],"spacing":137,"bounds":"flush","resolve":{"scale":{"color":"independent","strokeDash":"independent"},"legend":{"color":"independent","strokeDash":"independent"}},"title":{"text":"(d)  Javits Convention Center. Traffic explained by POI and geo-tagged tweets. More details in Figure 10 and Figure 11."}},
{"hconcat":[
{"width":433,"height":87,"data":{"name":"e1"},
"encoding":{"x":{"field":"h","type":"quantitative","scale":{"domain":[0,360]},"axis":{"values":[0,48,96,144,192,240,288,336],"labelExpr":"datum.value/24+25<=31?'10/'+(datum.value/24+25):'11/0'+(datum.value/24-6)","title":null}},"y":{"field":"v","type":"quantitative","scale":{"domain":[0,1000]},"axis":{"values":[0,500,1000],"title":"#drop offs"}}},
"layer":[
{"transform":[{"fold":["g","f","r"],"as":["k","v"]},{"filter":"datum.k=='g'"}],"mark":{"type":"point","color":"#a8a8a8"}},
{"transform":[{"fold":["g","f","r"],"as":["k","v"]}],"mark":"line","encoding":{
"color":{"field":"k","type":"nominal","scale":{"domain":["g","f","r"],"range":["#a8a8a8","#ff0000","#0000ff"]},"legend":{"title":null,"legendX":95,"legendY":-24,"labelExpr":"datum.value=='g'?'Ground truth':datum.value=='f'?'Fitted':'No weather'","encode":{"symbols":{"shape":{"value":{"expr":"datum.value=='g'?'M-1,0H-0.25M0.25,0H1M0.25,0A0.25,0.25,0,1,1,-0.25,0A0.25,0.25,0,1,1,0.25,0':'stroke'"}}}}}},
"strokeDash":{"field":"k","type":"nominal","scale":{"domain":["g","f","r"],"range":[[1,0],[1,0],[5,2.5,1,2.5]]},"legend":{"title":null,"legendX":95,"legendY":-24,"labelExpr":"datum.value=='g'?'Ground truth':datum.value=='f'?'Fitted':'No weather'","encode":{"symbols":{"shape":{"value":{"expr":"datum.value=='g'?'M-1,0H-0.25M0.25,0H1M0.25,0A0.25,0.25,0,1,1,-0.25,0A0.25,0.25,0,1,1,0.25,0':'stroke'"}}}}}}}},
{"data":{"values":[{"h":49,"v":840,"t":"Hurricane Sandy, October 29, 2012"}]},"mark":{"type":"text","align":"left","baseline":"middle","fontSize":12.5,"color":"#222"},"encoding":{"text":{"field":"t","type":"nominal"}}},
{"data":{"values":[{"h":101,"v":724,"v2":240}]},"mark":{"type":"rule","color":"#111","strokeWidth":1.2},"encoding":{"y2":{"field":"v2"}}},
{"data":{"values":[{"h":101,"v":240,"s":"triangle-down"}]},"mark":{"type":"point","filled":true,"color":"#111","size":45,"strokeWidth":0},"encoding":{"shape":{"field":"s","type":"nominal","scale":null}}}
]},
{"width":429,"height":87,"data":{"name":"e2"},"view":{"stroke":null},"resolve":{"axis":{"x":"independent"}},
"encoding":{"x":{"field":"h","type":"quantitative","scale":{"domain":[0,351]},"axis":{"values":[0,48,96,144,192,240,288,336],"labelExpr":"datum.value/24+25<=31?'10/'+(datum.value/24+25):'11/0'+(datum.value/24-6)","title":null,"domain":true}},"y":{"field":"v","type":"quantitative","scale":{"domain":[0,1000]},"axis":{"values":[0,500,1000],"title":"#pick ups","domain":true}}},
"layer":[
{"transform":[{"fold":["g","f","r"],"as":["k","v"]},{"filter":"datum.k=='g'"}],"mark":{"type":"point","color":"#a8a8a8"},"encoding":{"x":{"field":"h","type":"quantitative","scale":{"domain":[0,351]},"axis":{"orient":"top","labels":false,"grid":false,"domain":true,"title":null}}}},
{"transform":[{"fold":["g","f","r"],"as":["k","v"]}],"mark":"line","encoding":{
"color":{"field":"k","type":"nominal","scale":{"domain":["g","f","r"],"range":["#a8a8a8","#ff0000","#0000ff"]},"legend":{"title":null,"legendX":96,"legendY":-24,"labelExpr":"datum.value=='g'?'Ground truth':datum.value=='f'?'Fitted':'No weather'","encode":{"symbols":{"shape":{"value":{"expr":"datum.value=='g'?'M-1,0H-0.25M0.25,0H1M0.25,0A0.25,0.25,0,1,1,-0.25,0A0.25,0.25,0,1,1,0.25,0':'stroke'"}}}}}},
"strokeDash":{"field":"k","type":"nominal","scale":{"domain":["g","f","r"],"range":[[1,0],[1,0],[5,2.5,1,2.5]]},"legend":{"title":null,"legendX":96,"legendY":-24,"labelExpr":"datum.value=='g'?'Ground truth':datum.value=='f'?'Fitted':'No weather'","encode":{"symbols":{"shape":{"value":{"expr":"datum.value=='g'?'M-1,0H-0.25M0.25,0H1M0.25,0A0.25,0.25,0,1,1,-0.25,0A0.25,0.25,0,1,1,0.25,0':'stroke'"}}}}}}}},
{"data":{"values":[{"h":49,"v":840,"t":"Hurricane Sandy, October 29, 2012"}]},"mark":{"type":"text","align":"left","baseline":"middle","fontSize":12.5,"color":"#222"},"encoding":{"x":{"field":"h","type":"quantitative","axis":null},"text":{"field":"t","type":"nominal"}}},
{"data":{"values":[{"h":101,"v":724,"v2":240}]},"mark":{"type":"rule","color":"#111","strokeWidth":1.2},"encoding":{"x":{"field":"h","type":"quantitative","axis":null},"y2":{"field":"v2"}}},
{"data":{"values":[{"h":101,"v":240,"s":"triangle-down"}]},"mark":{"type":"point","filled":true,"color":"#111","size":45,"strokeWidth":0},"encoding":{"x":{"field":"h","type":"quantitative","axis":null},"shape":{"field":"s","type":"nominal","scale":null}}}
]}
],"spacing":137,"bounds":"flush","resolve":{"scale":{"color":"independent","strokeDash":"independent"},"legend":{"color":"independent","strokeDash":"independent"}},"title":{"text":"(e)  Madison Square Garden. Traffic explained by POI and weather. More details in Figure 12."}}
],"spacing":193.5,"bounds":"flush"}
